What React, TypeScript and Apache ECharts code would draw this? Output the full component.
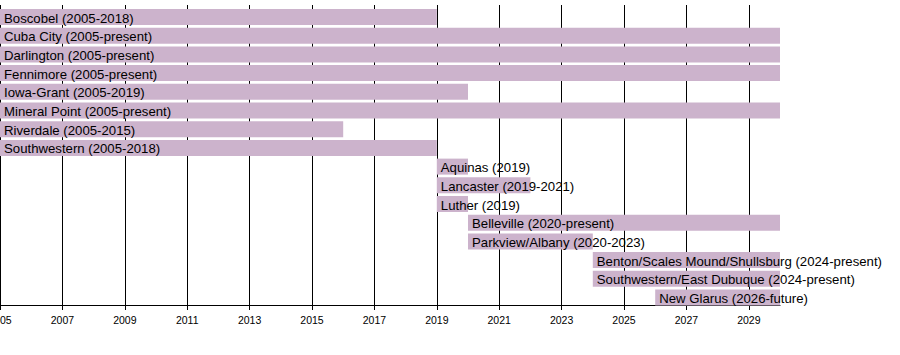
import React, { useEffect, useRef } from "react";
import * as echarts from "echarts";

const labels = [
  "Boscobel (2005-2018)",
  "Cuba City (2005-present)",
  "Darlington (2005-present)",
  "Fennimore (2005-present)",
  "Iowa-Grant (2005-2019)",
  "Mineral Point (2005-present)",
  "Riverdale (2005-2015)",
  "Southwestern (2005-2018)",
  "Aquinas (2019)",
  "Lancaster (2019-2021)",
  "Luther (2019)",
  "Belleville (2020-present)",
  "Parkview/Albany (2020-2023)",
  "Benton/Scales Mound/Shullsburg (2024-present)",
  "Southwestern/East Dubuque (2024-present)",
  "New Glarus (2026-future)",
];
const startYears = [2005, 2005, 2005, 2005, 2005, 2005, 2005, 2005, 2019, 2019, 2019, 2020, 2020, 2024, 2024, 2026];
const endYears = [2019, 2030, 2030, 2030, 2020, 2030, 2016, 2019, 2020, 2022, 2020, 2030, 2024, 2030, 2030, 2030];
const tickYears = [2005, 2007, 2009, 2011, 2013, 2015, 2017, 2019, 2021, 2023, 2025, 2027, 2029];

const BAR_COLOR = "#ccb3cc";
const FONT = "Liberation Sans, Arial, Helvetica, sans-serif";

export default function App() {
  const ref = useRef<HTMLDivElement>(null);
  useEffect(() => {
    if (!ref.current) return;
    const chart = echarts.init(ref.current, undefined, { renderer: "svg" });
    const data = labels.map((l, i) => [startYears[i], endYears[i], i]);
    chart.setOption({
      animation: false,
      grid: { left: 0, right: 120, top: 5, bottom: 50, containLabel: false, outerBoundsMode: "none" },
      xAxis: {
        type: "value",
        min: 2005,
        max: 2030,
        axisLine: { show: true, onZero: false, lineStyle: { color: "#000", width: 1 } },
        axisTick: { show: true, length: 5, lineStyle: { color: "#000" }, customValues: tickYears },
        axisLabel: {
          customValues: tickYears,
          color: "#000",
          fontSize: 10.5,
          fontFamily: FONT,
          margin: 9,
          formatter: (v: number) => String(v),
        },
        splitLine: { show: true, lineStyle: { color: "#000", width: 1 } },
      },
      yAxis: {
        type: "value",
        inverse: true,
        min: -0.642,
        max: 15.4,
        show: false,
        splitLine: { show: false },
      },
      series: [
        {
          type: "custom",
          clip: false,
          encode: { x: [0, 1], y: 2 },
          data,
          renderItem: (params: any, api: any) => {
            const idx = params.dataIndex;
            const s = api.coord([api.value(0), api.value(2)]);
            const e = api.coord([api.value(1), api.value(2)]);
            const h = 16;
            return {
              type: "group",
              children: [
                {
                  type: "rect",
                  shape: { x: s[0], y: s[1] - h / 2, width: e[0] - s[0], height: h },
                  style: { fill: BAR_COLOR },
                },
                {
                  type: "text",
                  style: {
                    text: labels[idx],
                    x: s[0] + 4,
                    y: s[1] + 1,
                    verticalAlign: "middle",
                    align: "left",
                    fill: "#000",
                    font: `13.2px ${FONT}`,
                  },
                },
              ],
            };
          },
        },
      ],
    });
    return () => chart.dispose();
  }, []);
  return <div ref={ref} style={{ position: "absolute", left: 0, top: 0, width: 900, height: 355 }} />;
}
